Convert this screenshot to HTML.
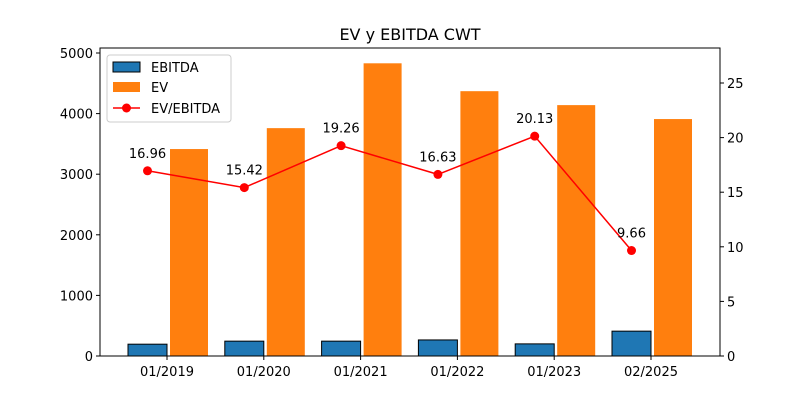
<!DOCTYPE html>
<html><head><meta charset="utf-8"><style>
body{margin:0;background:#fff;font-family:"Liberation Sans","DejaVu Sans",sans-serif;}
svg text{font-family:"DejaVu Sans","Liberation Sans",sans-serif;font-size:13px;fill:#000;}
</style></head><body>
<svg id="c" width="800" height="400" xmlns="http://www.w3.org/2000/svg"></svg>
<script>
const categories=["01/2019","01/2020","01/2021","01/2022","01/2023","02/2025"];
const ebitda=[195,245,245,265,200,410];
const ev=[3415,3760,4830,4370,4140,3910];
const ratio=[16.96,15.42,19.26,16.63,20.13,9.66];
const leftTicks=[0,1000,2000,3000,4000,5000];
const rightTicks=[0,5,10,15,20,25];
const svg=document.getElementById('c');
const NS="http://www.w3.org/2000/svg";
const L=100,R=720,T=48,B=356;
const yL=v=>B-v*(303/5000);
const yR=v=>B-v*(273/25);
const xC=i=>167+i*96.8;
function el(t,a,txt){const e=document.createElementNS(NS,t);for(const k in a)e.setAttribute(k,a[k]);if(txt!==undefined)e.textContent=txt;svg.appendChild(e);return e;}
let t=el('text',{x:410,y:40,'text-anchor':'middle','font-size':16},'EV y EBITDA CWT');

t.style.fontSize='16px';
categories.forEach((c,i)=>{
 let b=el('rect',{x:xC(i)-39,y:yL(ebitda[i]),width:39,height:B-yL(ebitda[i]),fill:'#1f77b4',stroke:'#000','stroke-width':1});
 
 let e=el('rect',{x:xC(i)+3,y:yL(ev[i]),width:38,height:B-yL(ev[i]),fill:'#ff7f0e'});
 
 el('line',{x1:xC(i),x2:xC(i),y1:B,y2:B+4,stroke:'#000'});
 let l=el('text',{x:xC(i),y:B+20,'text-anchor':'middle'},c);
 
});
let pts=ratio.map((v,i)=>(xC(i)-19.5)+','+yR(v)).join(' ');
let pl=el('polyline',{points:pts,fill:'none',stroke:'#ff0000','stroke-width':1.5});

ratio.forEach((v,i)=>{
 let c=el('circle',{cx:xC(i)-19.5,cy:yR(v),r:4.5,fill:'#ff0000'});
 
 let tx=el('text',{x:xC(i)-19.5,y:yR(v)-13,'text-anchor':'middle'},v.toFixed(2));
 
});
el('rect',{x:L,y:T,width:R-L,height:B-T,fill:'none',stroke:'#000','stroke-width':1});
leftTicks.forEach(v=>{el('line',{x1:L-4,x2:L,y1:yL(v),y2:yL(v),stroke:'#000'});
 let tx=el('text',{x:L-7,y:yL(v)+5,'text-anchor':'end'},v);});
rightTicks.forEach(v=>{el('line',{x1:R,x2:R+4,y1:yR(v),y2:yR(v),stroke:'#000'});
 let tx=el('text',{x:R+7,y:yR(v)+5,'text-anchor':'start'},v);});
let lg=el('rect',{x:107,y:55,width:124,height:67,fill:'#fff',stroke:'#ccc',rx:3});

el('rect',{x:113,y:62,width:27,height:10,fill:'#1f77b4',stroke:'#000'});
let a=el('text',{x:151,y:72},'EBITDA');
el('rect',{x:113,y:82,width:27,height:10,fill:'#ff7f0e'});
let b2=el('text',{x:151,y:92},'EV');
el('line',{x1:113,x2:140,y1:108,y2:108,stroke:'#ff0000','stroke-width':1.5});
el('circle',{cx:126.5,cy:108,r:4.5,fill:'#ff0000'});
let c3=el('text',{x:151,y:113},'EV/EBITDA');
</script>
</body></html>
